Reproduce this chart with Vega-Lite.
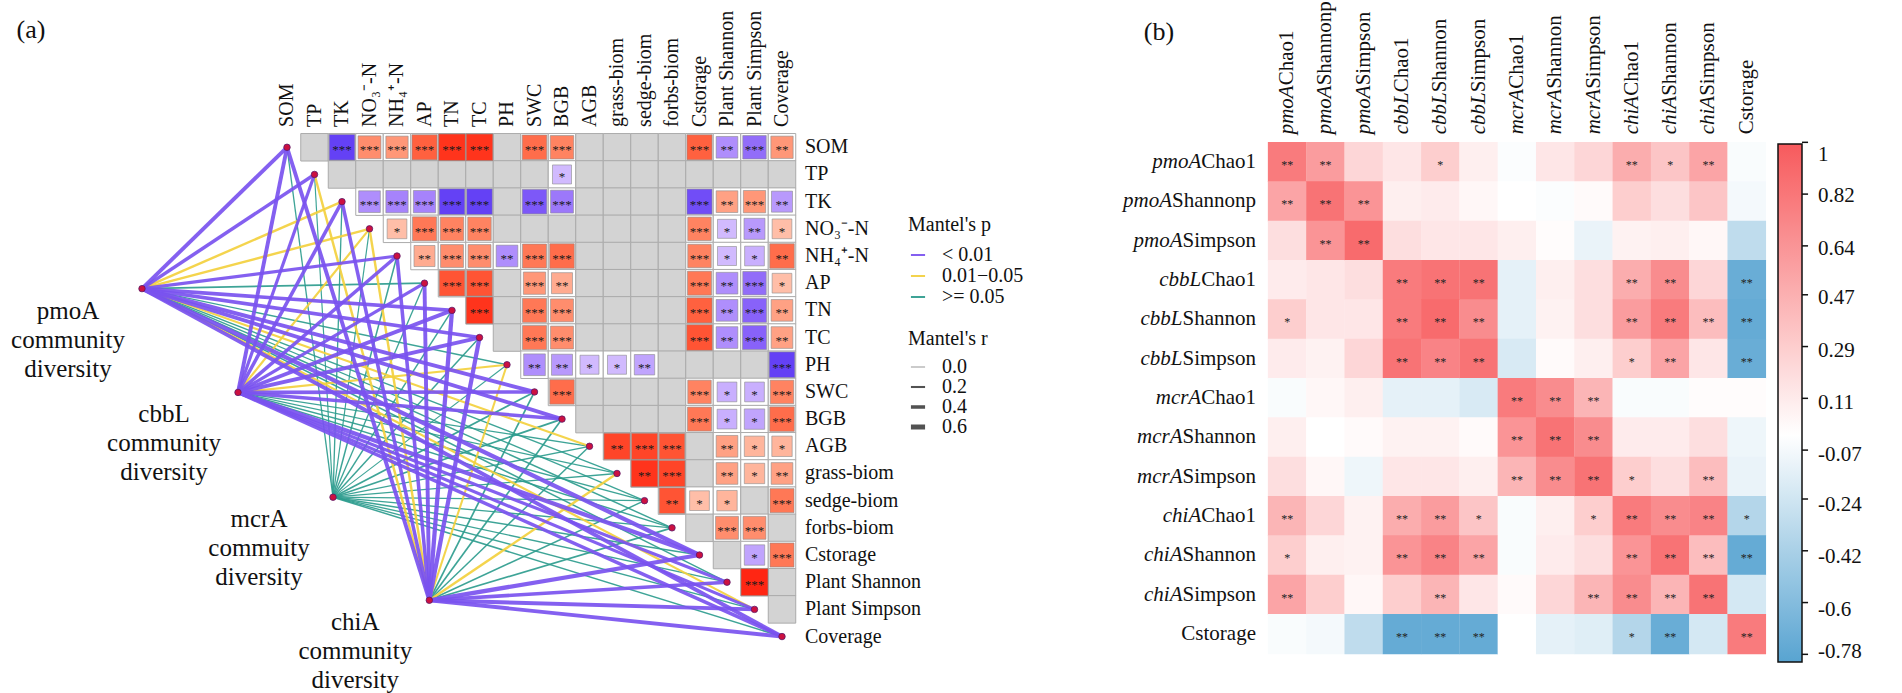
{
"$schema":"https://vega.github.io/schema/vega-lite/v6.json",
"width":1902,"height":693,
"autosize":{"type":"fit","contains":"padding"},
"padding":0,
"background":"white",
"config":{"view":{"stroke":null},"axis":{"disable":true},"font":"Liberation Serif","legend":{"titleFontWeight":"normal","titleFontSize":20,"labelFontSize":20,"titleColor":"#111","labelColor":"#111","padding":0}},
"datasets":{
"envs":[{"k":"SOM","n":"SOM","i":0},{"k":"TP","n":"TP","i":1},{"k":"TK","n":"TK","i":2},{"k":"NO3","n":"NO₃⁻-N","i":3},{"k":"NH4","n":"NH₄⁺-N","i":4},{"k":"AP","n":"AP","i":5},{"k":"TN","n":"TN","i":6},{"k":"TC","n":"TC","i":7},{"k":"PH","n":"PH","i":8},{"k":"SWC","n":"SWC","i":9},{"k":"BGB","n":"BGB","i":10},{"k":"AGB","n":"AGB","i":11},{"k":"grass","n":"grass-biom","i":12},{"k":"sedge","n":"sedge-biom","i":13},{"k":"forbs","n":"forbs-biom","i":14},{"k":"Cstorage","n":"Cstorage","i":15},{"k":"PShannon","n":"Plant Shannon","i":16},{"k":"PSimpson","n":"Plant Simpson","i":17},{"k":"Coverage","n":"Coverage","i":18}],
"genes":[{"g":"pmoA","gx":-5.273,"gy":5.2,"lab":["pmoA","community","diversity"]},{"g":"cbbL","gx":-1.782,"gy":9.018,"lab":["cbbL","community","diversity"]},{"g":"mcrA","gx":1.673,"gy":12.873,"lab":["mcrA","commuity","diversity"]},{"g":"chiA","gx":5.175,"gy":16.665,"lab":["chiA","community","diversity"]}],
"links":[
{"g":"mcrA","e":"SOM","p":">= 0.05","r":0.1},{"g":"mcrA","e":"TP","p":">= 0.05","r":0.08},{"g":"mcrA","e":"TK","p":">= 0.05","r":0.1},{"g":"mcrA","e":"NO3","p":">= 0.05","r":0.08},{"g":"mcrA","e":"NH4","p":">= 0.05","r":0.12},{"g":"mcrA","e":"AP","p":">= 0.05","r":0.1},{"g":"mcrA","e":"TN","p":">= 0.05","r":0.12},{"g":"mcrA","e":"TC","p":">= 0.05","r":0.12},{"g":"mcrA","e":"PH","p":">= 0.05","r":0.06},{"g":"mcrA","e":"SWC","p":">= 0.05","r":0.15},{"g":"mcrA","e":"BGB","p":">= 0.05","r":0.15},{"g":"mcrA","e":"AGB","p":">= 0.05","r":0.1},{"g":"mcrA","e":"grass","p":">= 0.05","r":0.1},{"g":"mcrA","e":"sedge","p":">= 0.05","r":0.08},{"g":"mcrA","e":"forbs","p":">= 0.05","r":0.1},{"g":"mcrA","e":"Cstorage","p":">= 0.05","r":0.12},{"g":"mcrA","e":"PShannon","p":">= 0.05","r":0.1},{"g":"mcrA","e":"PSimpson","p":">= 0.05","r":0.1},{"g":"mcrA","e":"Coverage","p":">= 0.05","r":0.12},
{"g":"pmoA","e":"AP","p":">= 0.05","r":0.15},{"g":"pmoA","e":"PH","p":">= 0.05","r":0.1},{"g":"pmoA","e":"grass","p":">= 0.05","r":0.1},{"g":"pmoA","e":"sedge","p":">= 0.05","r":0.1},{"g":"pmoA","e":"forbs","p":">= 0.05","r":0.12},{"g":"pmoA","e":"PShannon","p":">= 0.05","r":0.12},
{"g":"cbbL","e":"AGB","p":">= 0.05","r":0.1},{"g":"cbbL","e":"grass","p":">= 0.05","r":0.1},{"g":"cbbL","e":"sedge","p":">= 0.05","r":0.12},{"g":"cbbL","e":"forbs","p":">= 0.05","r":0.12},
{"g":"chiA","e":"SWC","p":">= 0.05","r":0.15},{"g":"chiA","e":"BGB","p":">= 0.05","r":0.15},{"g":"chiA","e":"AGB","p":">= 0.05","r":0.12},{"g":"chiA","e":"sedge","p":">= 0.05","r":0.12},{"g":"chiA","e":"forbs","p":">= 0.05","r":0.15},
{"g":"pmoA","e":"TK","p":"0.01−0.05","r":0.25},{"g":"pmoA","e":"NO3","p":"0.01−0.05","r":0.25},{"g":"pmoA","e":"AGB","p":"0.01−0.05","r":0.2},{"g":"pmoA","e":"PSimpson","p":"0.01−0.05","r":0.22},
{"g":"cbbL","e":"NO3","p":"0.01−0.05","r":0.22},{"g":"cbbL","e":"PH","p":"0.01−0.05","r":0.22},
{"g":"chiA","e":"TP","p":"0.01−0.05","r":0.25},{"g":"chiA","e":"NO3","p":"0.01−0.05","r":0.25},{"g":"chiA","e":"PH","p":"0.01−0.05","r":0.2},{"g":"chiA","e":"grass","p":"0.01−0.05","r":0.25},
{"g":"pmoA","e":"SOM","p":"< 0.01","r":0.45},{"g":"pmoA","e":"TP","p":"< 0.01","r":0.4},{"g":"pmoA","e":"NH4","p":"< 0.01","r":0.35},{"g":"pmoA","e":"TN","p":"< 0.01","r":0.4},{"g":"pmoA","e":"TC","p":"< 0.01","r":0.4},{"g":"pmoA","e":"SWC","p":"< 0.01","r":0.45},{"g":"pmoA","e":"BGB","p":"< 0.01","r":0.45},{"g":"pmoA","e":"Cstorage","p":"< 0.01","r":0.5},{"g":"pmoA","e":"Coverage","p":"< 0.01","r":0.45},
{"g":"cbbL","e":"SOM","p":"< 0.01","r":0.45},{"g":"cbbL","e":"TP","p":"< 0.01","r":0.35},{"g":"cbbL","e":"TK","p":"< 0.01","r":0.4},{"g":"cbbL","e":"NH4","p":"< 0.01","r":0.4},{"g":"cbbL","e":"AP","p":"< 0.01","r":0.35},{"g":"cbbL","e":"TN","p":"< 0.01","r":0.45},{"g":"cbbL","e":"TC","p":"< 0.01","r":0.45},{"g":"cbbL","e":"SWC","p":"< 0.01","r":0.4},{"g":"cbbL","e":"BGB","p":"< 0.01","r":0.4},{"g":"cbbL","e":"Cstorage","p":"< 0.01","r":0.5},{"g":"cbbL","e":"PShannon","p":"< 0.01","r":0.35},{"g":"cbbL","e":"PSimpson","p":"< 0.01","r":0.35},{"g":"cbbL","e":"Coverage","p":"< 0.01","r":0.4},
{"g":"chiA","e":"SOM","p":"< 0.01","r":0.45},{"g":"chiA","e":"TK","p":"< 0.01","r":0.4},{"g":"chiA","e":"NH4","p":"< 0.01","r":0.4},{"g":"chiA","e":"AP","p":"< 0.01","r":0.45},{"g":"chiA","e":"TN","p":"< 0.01","r":0.5},{"g":"chiA","e":"TC","p":"< 0.01","r":0.5},{"g":"chiA","e":"Cstorage","p":"< 0.01","r":0.5},{"g":"chiA","e":"PShannon","p":"< 0.01","r":0.4},{"g":"chiA","e":"PSimpson","p":"< 0.01","r":0.45},{"g":"chiA","e":"Coverage","p":"< 0.01","r":0.45}
],
"cellsA":[
{"i":0,"j":1,"p":""},{"i":0,"j":2,"r":-0.85,"p":"***"},{"i":0,"j":3,"r":0.6,"p":"***"},{"i":0,"j":4,"r":0.55,"p":"***"},{"i":0,"j":5,"r":0.8,"p":"***"},{"i":0,"j":6,"r":0.95,"p":"***"},{"i":0,"j":7,"r":0.95,"p":"***"},{"i":0,"j":8,"p":""},{"i":0,"j":9,"r":0.75,"p":"***"},{"i":0,"j":10,"r":0.65,"p":"***"},{"i":0,"j":11,"p":""},{"i":0,"j":12,"p":""},{"i":0,"j":13,"p":""},{"i":0,"j":14,"p":""},{"i":0,"j":15,"r":0.8,"p":"***"},{"i":0,"j":16,"r":-0.5,"p":"**"},{"i":0,"j":17,"r":-0.65,"p":"***"},{"i":0,"j":18,"r":0.55,"p":"**"},
{"i":1,"j":2,"p":""},{"i":1,"j":3,"p":""},{"i":1,"j":4,"p":""},{"i":1,"j":5,"p":""},{"i":1,"j":6,"p":""},{"i":1,"j":7,"p":""},{"i":1,"j":8,"p":""},{"i":1,"j":9,"p":""},{"i":1,"j":10,"r":-0.3,"p":"*"},{"i":1,"j":11,"p":""},{"i":1,"j":12,"p":""},{"i":1,"j":13,"p":""},{"i":1,"j":14,"p":""},{"i":1,"j":15,"p":""},{"i":1,"j":16,"p":""},{"i":1,"j":17,"p":""},{"i":1,"j":18,"p":""},
{"i":2,"j":3,"r":-0.5,"p":"***"},{"i":2,"j":4,"r":-0.55,"p":"***"},{"i":2,"j":5,"r":-0.55,"p":"***"},{"i":2,"j":6,"r":-0.85,"p":"***"},{"i":2,"j":7,"r":-0.85,"p":"***"},{"i":2,"j":8,"p":""},{"i":2,"j":9,"r":-0.75,"p":"***"},{"i":2,"j":10,"r":-0.6,"p":"***"},{"i":2,"j":11,"p":""},{"i":2,"j":12,"p":""},{"i":2,"j":13,"p":""},{"i":2,"j":14,"p":""},{"i":2,"j":15,"r":-0.8,"p":"***"},{"i":2,"j":16,"r":0.5,"p":"**"},{"i":2,"j":17,"r":0.55,"p":"***"},{"i":2,"j":18,"r":-0.45,"p":"**"},
{"i":3,"j":4,"r":0.35,"p":"*"},{"i":3,"j":5,"r":0.7,"p":"***"},{"i":3,"j":6,"r":0.65,"p":"***"},{"i":3,"j":7,"r":0.65,"p":"***"},{"i":3,"j":8,"p":""},{"i":3,"j":9,"p":""},{"i":3,"j":10,"p":""},{"i":3,"j":11,"p":""},{"i":3,"j":12,"p":""},{"i":3,"j":13,"p":""},{"i":3,"j":14,"p":""},{"i":3,"j":15,"r":0.65,"p":"***"},{"i":3,"j":16,"r":-0.3,"p":"*"},{"i":3,"j":17,"r":-0.45,"p":"**"},{"i":3,"j":18,"r":0.35,"p":"*"},
{"i":4,"j":5,"r":0.45,"p":"**"},{"i":4,"j":6,"r":0.6,"p":"***"},{"i":4,"j":7,"r":0.6,"p":"***"},{"i":4,"j":8,"r":-0.5,"p":"**"},{"i":4,"j":9,"r":0.7,"p":"***"},{"i":4,"j":10,"r":0.75,"p":"***"},{"i":4,"j":11,"p":""},{"i":4,"j":12,"p":""},{"i":4,"j":13,"p":""},{"i":4,"j":14,"p":""},{"i":4,"j":15,"r":0.65,"p":"***"},{"i":4,"j":16,"r":-0.3,"p":"*"},{"i":4,"j":17,"r":-0.35,"p":"*"},{"i":4,"j":18,"r":0.75,"p":"**"},
{"i":5,"j":6,"r":0.85,"p":"***"},{"i":5,"j":7,"r":0.85,"p":"***"},{"i":5,"j":8,"p":""},{"i":5,"j":9,"r":0.55,"p":"***"},{"i":5,"j":10,"r":0.45,"p":"**"},{"i":5,"j":11,"p":""},{"i":5,"j":12,"p":""},{"i":5,"j":13,"p":""},{"i":5,"j":14,"p":""},{"i":5,"j":15,"r":0.7,"p":"***"},{"i":5,"j":16,"r":-0.5,"p":"**"},{"i":5,"j":17,"r":-0.65,"p":"***"},{"i":5,"j":18,"r":0.35,"p":"*"},
{"i":6,"j":7,"r":0.95,"p":"***"},{"i":6,"j":8,"p":""},{"i":6,"j":9,"r":0.7,"p":"***"},{"i":6,"j":10,"r":0.6,"p":"***"},{"i":6,"j":11,"p":""},{"i":6,"j":12,"p":""},{"i":6,"j":13,"p":""},{"i":6,"j":14,"p":""},{"i":6,"j":15,"r":0.8,"p":"***"},{"i":6,"j":16,"r":-0.5,"p":"**"},{"i":6,"j":17,"r":-0.7,"p":"***"},{"i":6,"j":18,"r":0.5,"p":"**"},
{"i":7,"j":8,"p":""},{"i":7,"j":9,"r":0.7,"p":"***"},{"i":7,"j":10,"r":0.6,"p":"***"},{"i":7,"j":11,"p":""},{"i":7,"j":12,"p":""},{"i":7,"j":13,"p":""},{"i":7,"j":14,"p":""},{"i":7,"j":15,"r":0.85,"p":"***"},{"i":7,"j":16,"r":-0.5,"p":"**"},{"i":7,"j":17,"r":-0.7,"p":"***"},{"i":7,"j":18,"r":0.5,"p":"**"},
{"i":8,"j":9,"r":-0.5,"p":"**"},{"i":8,"j":10,"r":-0.45,"p":"**"},{"i":8,"j":11,"r":-0.3,"p":"*"},{"i":8,"j":12,"r":-0.3,"p":"*"},{"i":8,"j":13,"r":-0.4,"p":"**"},{"i":8,"j":14,"p":""},{"i":8,"j":15,"p":""},{"i":8,"j":16,"p":""},{"i":8,"j":17,"p":""},{"i":8,"j":18,"r":-0.85,"p":"***"},
{"i":9,"j":10,"r":0.75,"p":"***"},{"i":9,"j":11,"p":""},{"i":9,"j":12,"p":""},{"i":9,"j":13,"p":""},{"i":9,"j":14,"p":""},{"i":9,"j":15,"r":0.65,"p":"***"},{"i":9,"j":16,"r":-0.35,"p":"*"},{"i":9,"j":17,"r":-0.35,"p":"*"},{"i":9,"j":18,"r":0.65,"p":"***"},
{"i":10,"j":11,"p":""},{"i":10,"j":12,"p":""},{"i":10,"j":13,"p":""},{"i":10,"j":14,"p":""},{"i":10,"j":15,"r":0.7,"p":"***"},{"i":10,"j":16,"r":-0.35,"p":"*"},{"i":10,"j":17,"r":-0.4,"p":"*"},{"i":10,"j":18,"r":0.75,"p":"***"},
{"i":11,"j":12,"r":0.9,"p":"**"},{"i":11,"j":13,"r":0.9,"p":"***"},{"i":11,"j":14,"r":0.85,"p":"***"},{"i":11,"j":15,"p":""},{"i":11,"j":16,"r":0.5,"p":"**"},{"i":11,"j":17,"r":0.4,"p":"*"},{"i":11,"j":18,"r":0.4,"p":"*"},
{"i":12,"j":13,"r":0.95,"p":"**"},{"i":12,"j":14,"r":0.9,"p":"***"},{"i":12,"j":15,"p":""},{"i":12,"j":16,"r":0.5,"p":"**"},{"i":12,"j":17,"r":0.4,"p":"*"},{"i":12,"j":18,"r":0.5,"p":"**"},
{"i":13,"j":14,"r":0.85,"p":"**"},{"i":13,"j":15,"r":0.35,"p":"*"},{"i":13,"j":16,"r":0.4,"p":"*"},{"i":13,"j":17,"p":""},{"i":13,"j":18,"r":0.7,"p":"***"},
{"i":14,"j":15,"p":""},{"i":14,"j":16,"r":0.6,"p":"***"},{"i":14,"j":17,"r":0.6,"p":"***"},{"i":14,"j":18,"p":""},
{"i":15,"j":16,"p":""},{"i":15,"j":17,"r":-0.4,"p":"*"},{"i":15,"j":18,"r":0.7,"p":"***"},
{"i":16,"j":17,"r":0.98,"p":"***"},{"i":16,"j":18,"p":""},
{"i":17,"j":18,"p":""}
],
"blab":[{"i":0,"g":"pmoA","m":"Chao1"},{"i":1,"g":"pmoA","m":"Shannonp"},{"i":2,"g":"pmoA","m":"Simpson"},{"i":3,"g":"cbbL","m":"Chao1"},{"i":4,"g":"cbbL","m":"Shannon"},{"i":5,"g":"cbbL","m":"Simpson"},{"i":6,"g":"mcrA","m":"Chao1"},{"i":7,"g":"mcrA","m":"Shannon"},{"i":8,"g":"mcrA","m":"Simpson"},{"i":9,"g":"chiA","m":"Chao1"},{"i":10,"g":"chiA","m":"Shannon"},{"i":11,"g":"chiA","m":"Simpson"},{"i":12,"g":"","m":"Cstorage"}],
"cbticks":[{"v":1},{"v":0.82},{"v":0.64},{"v":0.47},{"v":0.29},{"v":0.11},{"v":-0.07},{"v":-0.24},{"v":-0.42},{"v":-0.6},{"v":-0.78}],
"cellsB":[
{"i":0,"j":0,"r":0.8,"p":"**"},{"i":0,"j":1,"r":0.6,"p":"**"},{"i":0,"j":2,"r":0.25,"p":""},{"i":0,"j":3,"r":0.15,"p":""},{"i":0,"j":4,"r":0.3,"p":"*"},{"i":0,"j":5,"r":0.1,"p":""},{"i":0,"j":6,"r":-0.02,"p":""},{"i":0,"j":7,"r":0.15,"p":""},{"i":0,"j":8,"r":0.25,"p":""},{"i":0,"j":9,"r":0.5,"p":"**"},{"i":0,"j":10,"r":0.35,"p":"*"},{"i":0,"j":11,"r":0.55,"p":"**"},{"i":0,"j":12,"r":-0.03,"p":""},
{"i":1,"j":0,"r":0.55,"p":"**"},{"i":1,"j":1,"r":0.85,"p":"**"},{"i":1,"j":2,"r":0.65,"p":"**"},{"i":1,"j":3,"r":0.1,"p":""},{"i":1,"j":4,"r":0.12,"p":""},{"i":1,"j":5,"r":0.05,"p":""},{"i":1,"j":6,"r":0,"p":""},{"i":1,"j":7,"r":-0.02,"p":""},{"i":1,"j":8,"r":0.03,"p":""},{"i":1,"j":9,"r":0.3,"p":""},{"i":1,"j":10,"r":0.2,"p":""},{"i":1,"j":11,"r":0.35,"p":""},{"i":1,"j":12,"r":-0.05,"p":""},
{"i":2,"j":0,"r":0.2,"p":""},{"i":2,"j":1,"r":0.65,"p":"**"},{"i":2,"j":2,"r":0.9,"p":"**"},{"i":2,"j":3,"r":0.2,"p":""},{"i":2,"j":4,"r":0.15,"p":""},{"i":2,"j":5,"r":0.15,"p":""},{"i":2,"j":6,"r":0.1,"p":""},{"i":2,"j":7,"r":0.02,"p":""},{"i":2,"j":8,"r":-0.1,"p":""},{"i":2,"j":9,"r":0.08,"p":""},{"i":2,"j":10,"r":0.1,"p":""},{"i":2,"j":11,"r":0.05,"p":""},{"i":2,"j":12,"r":-0.3,"p":""},
{"i":3,"j":0,"r":0.12,"p":""},{"i":3,"j":1,"r":0.15,"p":""},{"i":3,"j":2,"r":0.2,"p":""},{"i":3,"j":3,"r":0.8,"p":"**"},{"i":3,"j":4,"r":0.85,"p":"**"},{"i":3,"j":5,"r":0.85,"p":"**"},{"i":3,"j":6,"r":-0.12,"p":""},{"i":3,"j":7,"r":0.1,"p":""},{"i":3,"j":8,"r":0.2,"p":""},{"i":3,"j":9,"r":0.5,"p":"**"},{"i":3,"j":10,"r":0.7,"p":"**"},{"i":3,"j":11,"r":0.25,"p":""},{"i":3,"j":12,"r":-0.7,"p":"**"},
{"i":4,"j":0,"r":0.3,"p":"*"},{"i":4,"j":1,"r":0.15,"p":""},{"i":4,"j":2,"r":0.15,"p":""},{"i":4,"j":3,"r":0.8,"p":"**"},{"i":4,"j":4,"r":0.9,"p":"**"},{"i":4,"j":5,"r":0.7,"p":"**"},{"i":4,"j":6,"r":-0.12,"p":""},{"i":4,"j":7,"r":0.08,"p":""},{"i":4,"j":8,"r":0.2,"p":""},{"i":4,"j":9,"r":0.6,"p":"**"},{"i":4,"j":10,"r":0.8,"p":"**"},{"i":4,"j":11,"r":0.4,"p":"**"},{"i":4,"j":12,"r":-0.72,"p":"**"},
{"i":5,"j":0,"r":0.12,"p":""},{"i":5,"j":1,"r":0.08,"p":""},{"i":5,"j":2,"r":0.25,"p":""},{"i":5,"j":3,"r":0.85,"p":"**"},{"i":5,"j":4,"r":0.75,"p":"**"},{"i":5,"j":5,"r":0.85,"p":"**"},{"i":5,"j":6,"r":-0.18,"p":""},{"i":5,"j":7,"r":0.03,"p":""},{"i":5,"j":8,"r":0.1,"p":""},{"i":5,"j":9,"r":0.3,"p":"*"},{"i":5,"j":10,"r":0.55,"p":"**"},{"i":5,"j":11,"r":0.15,"p":""},{"i":5,"j":12,"r":-0.7,"p":"**"},
{"i":6,"j":0,"r":-0.03,"p":""},{"i":6,"j":1,"r":0.05,"p":""},{"i":6,"j":2,"r":0.1,"p":""},{"i":6,"j":3,"r":-0.12,"p":""},{"i":6,"j":4,"r":-0.12,"p":""},{"i":6,"j":5,"r":-0.18,"p":""},{"i":6,"j":6,"r":0.8,"p":"**"},{"i":6,"j":7,"r":0.7,"p":"**"},{"i":6,"j":8,"r":0.45,"p":"**"},{"i":6,"j":9,"r":-0.03,"p":""},{"i":6,"j":10,"r":-0.03,"p":""},{"i":6,"j":11,"r":0.02,"p":""},{"i":6,"j":12,"r":0.02,"p":""},
{"i":7,"j":0,"r":0.1,"p":""},{"i":7,"j":1,"r":0,"p":""},{"i":7,"j":2,"r":0.03,"p":""},{"i":7,"j":3,"r":0.08,"p":""},{"i":7,"j":4,"r":0.08,"p":""},{"i":7,"j":5,"r":0.03,"p":""},{"i":7,"j":6,"r":0.65,"p":"**"},{"i":7,"j":7,"r":0.85,"p":"**"},{"i":7,"j":8,"r":0.7,"p":"**"},{"i":7,"j":9,"r":0.12,"p":""},{"i":7,"j":10,"r":0.12,"p":""},{"i":7,"j":11,"r":0.2,"p":""},{"i":7,"j":12,"r":-0.08,"p":""},
{"i":8,"j":0,"r":0.2,"p":""},{"i":8,"j":1,"r":0.05,"p":""},{"i":8,"j":2,"r":-0.08,"p":""},{"i":8,"j":3,"r":0.15,"p":""},{"i":8,"j":4,"r":0.15,"p":""},{"i":8,"j":5,"r":0.1,"p":""},{"i":8,"j":6,"r":0.45,"p":"**"},{"i":8,"j":7,"r":0.7,"p":"**"},{"i":8,"j":8,"r":0.85,"p":"**"},{"i":8,"j":9,"r":0.3,"p":"*"},{"i":8,"j":10,"r":0.2,"p":""},{"i":8,"j":11,"r":0.4,"p":"**"},{"i":8,"j":12,"r":-0.1,"p":""},
{"i":9,"j":0,"r":0.45,"p":"**"},{"i":9,"j":1,"r":0.25,"p":""},{"i":9,"j":2,"r":0.08,"p":""},{"i":9,"j":3,"r":0.5,"p":"**"},{"i":9,"j":4,"r":0.6,"p":"**"},{"i":9,"j":5,"r":0.35,"p":"*"},{"i":9,"j":6,"r":-0.03,"p":""},{"i":9,"j":7,"r":0.1,"p":""},{"i":9,"j":8,"r":0.3,"p":"*"},{"i":9,"j":9,"r":0.8,"p":"**"},{"i":9,"j":10,"r":0.7,"p":"**"},{"i":9,"j":11,"r":0.75,"p":"**"},{"i":9,"j":12,"r":-0.35,"p":"*"},
{"i":10,"j":0,"r":0.3,"p":"*"},{"i":10,"j":1,"r":0.1,"p":""},{"i":10,"j":2,"r":0.08,"p":""},{"i":10,"j":3,"r":0.65,"p":"**"},{"i":10,"j":4,"r":0.75,"p":"**"},{"i":10,"j":5,"r":0.55,"p":"**"},{"i":10,"j":6,"r":-0.03,"p":""},{"i":10,"j":7,"r":0.12,"p":""},{"i":10,"j":8,"r":0.2,"p":""},{"i":10,"j":9,"r":0.65,"p":"**"},{"i":10,"j":10,"r":0.85,"p":"**"},{"i":10,"j":11,"r":0.4,"p":"**"},{"i":10,"j":12,"r":-0.72,"p":"**"},
{"i":11,"j":0,"r":0.55,"p":"**"},{"i":11,"j":1,"r":0.3,"p":""},{"i":11,"j":2,"r":0.05,"p":""},{"i":11,"j":3,"r":0.3,"p":""},{"i":11,"j":4,"r":0.45,"p":"**"},{"i":11,"j":5,"r":0.15,"p":""},{"i":11,"j":6,"r":0.03,"p":""},{"i":11,"j":7,"r":0.25,"p":""},{"i":11,"j":8,"r":0.45,"p":"**"},{"i":11,"j":9,"r":0.7,"p":"**"},{"i":11,"j":10,"r":0.45,"p":"**"},{"i":11,"j":11,"r":0.85,"p":"**"},{"i":11,"j":12,"r":-0.2,"p":""},
{"i":12,"j":0,"r":-0.03,"p":""},{"i":12,"j":1,"r":-0.05,"p":""},{"i":12,"j":2,"r":-0.3,"p":""},{"i":12,"j":3,"r":-0.72,"p":"**"},{"i":12,"j":4,"r":-0.72,"p":"**"},{"i":12,"j":5,"r":-0.72,"p":"**"},{"i":12,"j":6,"r":0,"p":""},{"i":12,"j":7,"r":-0.12,"p":""},{"i":12,"j":8,"r":-0.15,"p":""},{"i":12,"j":9,"r":-0.35,"p":"*"},{"i":12,"j":10,"r":-0.7,"p":"**"},{"i":12,"j":11,"r":-0.2,"p":""},{"i":12,"j":12,"r":0.8,"p":"**"}
]
},
"layer":[
{"layer":[
{"data":{"name":"links"},
 "transform":[{"lookup":"g","from":{"data":{"name":"genes"},"key":"g","fields":["gx","gy"]}},{"lookup":"e","from":{"data":{"name":"envs"},"key":"k","fields":["i"]}}],
 "mark":{"type":"rule","opacity":0.92},
 "encoding":{
  "x":{"field":"gx","type":"quantitative","scale":{"domain":[-10.4364,58.7273],"nice":false,"zero":false},"axis":null},
  "y":{"field":"gy","type":"quantitative","scale":{"domain":[-5.4182,19.7818],"nice":false,"zero":false,"reverse":true},"axis":null},
  "x2":{"field":"i"},"y2":{"field":"i"},
  "stroke":{"field":"p","type":"nominal","scale":{"domain":["< 0.01","0.01−0.05",">= 0.05"],"range":["#7a52ef","#f3d03e","#2e9c8e"]},"legend":{"title":"Mantel's p","orient":"none","legendX":908,"legendY":215,"symbolType":"stroke","symbolSize":200,"symbolStrokeWidth":2,"titlePadding":10,"rowPadding":1,"labelOffset":14}},
  "strokeWidth":{"field":"r","type":"quantitative","scale":{"domain":[0,0.6],"range":[0.6,5]},"legend":{"title":"Mantel's r","orient":"none","legendX":908,"legendY":329,"values":[0,0.2,0.4,0.6],"format":".1f","symbolType":"stroke","symbolSize":200,"symbolStrokeColor":"#444","titlePadding":8,"rowPadding":0,"labelOffset":14}}
 }},
{"data":{"name":"genes"},
 "mark":{"type":"circle","size":42,"opacity":1,"fill":"#cc1040","stroke":"#5a1a6a","strokeWidth":0.8},
 "encoding":{
  "x":{"field":"gx","type":"quantitative","scale":{"domain":[-10.4364,58.7273],"nice":false,"zero":false},"axis":null},
  "y":{"field":"gy","type":"quantitative","scale":{"domain":[-5.4182,19.7818],"nice":false,"zero":false,"reverse":true},"axis":null}}},
{"data":{"name":"envs"},
 "mark":{"type":"circle","size":42,"opacity":1,"fill":"#cc1040","stroke":"#5a1a6a","strokeWidth":0.8},
 "encoding":{
  "x":{"field":"i","type":"quantitative","scale":{"domain":[-10.4364,58.7273],"nice":false,"zero":false},"axis":null},
  "y":{"field":"i","type":"quantitative","scale":{"domain":[-5.4182,19.7818],"nice":false,"zero":false,"reverse":true},"axis":null}}},
{"data":{"name":"cellsA"},
 "mark":{"type":"square","size":756,"opacity":1,"stroke":"#ababab","strokeWidth":1},
 "encoding":{
  "x":{"field":"j","type":"quantitative","scale":{"domain":[-10.4364,58.7273],"nice":false,"zero":false},"axis":null},
  "y":{"field":"i","type":"quantitative","scale":{"domain":[-5.4182,19.7818],"nice":false,"zero":false,"reverse":true},"axis":null},
  "fill":{"condition":{"test":"datum.p == ''","value":"#d3d3d3"},"value":"#ffffff"}}},
{"data":{"name":"cellsA"},
 "transform":[{"filter":"datum.p != ''"}],
 "mark":{"type":"square","opacity":1,"stroke":"#8c8c8c","strokeWidth":0.6},
 "encoding":{
  "x":{"field":"j","type":"quantitative","scale":{"domain":[-10.4364,58.7273],"nice":false,"zero":false},"axis":null},
  "y":{"field":"i","type":"quantitative","scale":{"domain":[-5.4182,19.7818],"nice":false,"zero":false,"reverse":true},"axis":null},
  "fill":{"field":"r","type":"quantitative","scale":{"domain":[-1,0,1],"range":["#2b1cf2","#ffffff","#ff1a0d"],"interpolate":"lab"},"legend":{"title":"Pearson's r","orient":"none","legendX":908,"legendY":459,"direction":"vertical","gradientLength":90,"gradientThickness":14,"values":[1,0.5,0,-0.5,-1],"format":".1f","titlePadding":10,"labelOffset":3,"labelBaseline":"middle"}},
  "size":{"field":"r","type":"quantitative","scale":{"domain":[-1,0,1],"range":[740,200,740]},"legend":null}}},
{"data":{"name":"cellsA"},
 "transform":[{"filter":"datum.p != ''"}],
 "mark":{"type":"text","fontSize":13,"dy":3,"color":"#1a1a1a"},
 "encoding":{
  "x":{"field":"j","type":"quantitative","scale":{"domain":[-10.4364,58.7273],"nice":false,"zero":false},"axis":null},
  "y":{"field":"i","type":"quantitative","scale":{"domain":[-5.4182,19.7818],"nice":false,"zero":false,"reverse":true},"axis":null},
  "text":{"field":"p"}}},
{"data":{"name":"envs"},
 "mark":{"type":"text","fontSize":20,"angle":270,"align":"left","baseline":"middle","color":"#111"},
 "encoding":{
  "x":{"field":"i","type":"quantitative","scale":{"domain":[-10.4364,58.7273],"nice":false,"zero":false},"axis":null},
  "y":{"datum":-0.75,"type":"quantitative","scale":{"domain":[-5.4182,19.7818],"nice":false,"zero":false,"reverse":true},"axis":null},
  "text":{"field":"n"}}},
{"data":{"name":"envs"},
 "mark":{"type":"text","fontSize":20,"align":"left","baseline":"middle","color":"#111"},
 "encoding":{
  "x":{"datum":18.836,"type":"quantitative","scale":{"domain":[-10.4364,58.7273],"nice":false,"zero":false},"axis":null},
  "y":{"field":"i","type":"quantitative","scale":{"domain":[-5.4182,19.7818],"nice":false,"zero":false,"reverse":true},"axis":null},
  "text":{"field":"n"}}},
{"data":{"name":"genes"},
 "mark":{"type":"text","fontSize":25,"lineHeight":29,"align":"center","baseline":"middle","dx":-74,"dy":22,"color":"#111"},
 "encoding":{
  "x":{"field":"gx","type":"quantitative","scale":{"domain":[-10.4364,58.7273],"nice":false,"zero":false},"axis":null},
  "y":{"field":"gy","type":"quantitative","scale":{"domain":[-5.4182,19.7818],"nice":false,"zero":false,"reverse":true},"axis":null},
  "text":{"field":"lab"}}},
{"data":{"values":[{"t":"(a)"}]},
 "mark":{"type":"text","fontSize":26,"align":"center","baseline":"middle","color":"#111"},
 "encoding":{
  "x":{"datum":-9.309,"type":"quantitative","scale":{"domain":[-10.4364,58.7273],"nice":false,"zero":false},"axis":null},
  "y":{"datum":-4.327,"type":"quantitative","scale":{"domain":[-5.4182,19.7818],"nice":false,"zero":false,"reverse":true},"axis":null},
  "text":{"field":"t"}}},
{"data":{"values":[{"t":"(b)"}]},
 "mark":{"type":"text","fontSize":26,"align":"center","baseline":"middle","color":"#111"},
 "encoding":{
  "x":{"datum":31.709,"type":"quantitative","scale":{"domain":[-10.4364,58.7273],"nice":false,"zero":false},"axis":null},
  "y":{"datum":-4.255,"type":"quantitative","scale":{"domain":[-5.4182,19.7818],"nice":false,"zero":false,"reverse":true},"axis":null},
  "text":{"field":"t"}}}
]},
{"layer":[
{"data":{"name":"cellsB"},
 "mark":{"type":"rect","width":38.6,"height":40.1},
 "encoding":{
  "x":{"field":"j","type":"quantitative","scale":{"domain":[-33.607,16.053],"nice":false,"zero":false},"axis":null},
  "y":{"field":"i","type":"quantitative","scale":{"domain":[-4.118,13.294],"nice":false,"zero":false,"reverse":true},"axis":null},
  "color":{"field":"r","type":"quantitative","scale":{"domain":[-0.78,0,1],"range":["#58a4d1","#ffffff","#f75a5d"],"interpolate":"rgb"},"legend":{"title":null,"orient":"none","legendX":1778,"legendY":144,"direction":"vertical","gradientLength":518,"gradientThickness":24,"gradientStrokeColor":"#111","gradientStrokeWidth":1.5,"values":[1,0.82,0.64,0.47,0.29,0.11,-0.07,-0.24,-0.42,-0.6,-0.78],"labelExpr":"'' + datum.value","labelFontSize":21,"labelOffset":16,"labelOverlap":false,"labelBaseline":"middle"}}}},
{"data":{"name":"cellsB"},
 "transform":[{"filter":"datum.p != ''"}],
 "mark":{"type":"text","fontSize":12,"dy":3,"color":"#222"},
 "encoding":{
  "x":{"field":"j","type":"quantitative","scale":{"domain":[-33.607,16.053],"nice":false,"zero":false},"axis":null},
  "y":{"field":"i","type":"quantitative","scale":{"domain":[-4.118,13.294],"nice":false,"zero":false,"reverse":true},"axis":null},
  "text":{"field":"p"}}},
{"data":{"name":"blab"},
 "mark":{"type":"text","fontSize":21,"align":"right","baseline":"middle","dx":-12,"color":"#111"},
 "encoding":{
  "x":{"datum":-0.5,"type":"quantitative","scale":{"domain":[-33.607,16.053],"nice":false,"zero":false},"axis":null},
  "y":{"field":"i","type":"quantitative","scale":{"domain":[-4.118,13.294],"nice":false,"zero":false,"reverse":true},"axis":null},
  "text":{"field":"m"}}},
{"data":{"name":"blab"},
 "transform":[{"filter":"datum.m == 'Chao1'"}],
 "mark":{"type":"text","fontSize":21,"fontStyle":"italic","align":"right","baseline":"middle","dx":-66.8,"color":"#111"},
 "encoding":{
  "x":{"datum":-0.5,"type":"quantitative","scale":{"domain":[-33.607,16.053],"nice":false,"zero":false},"axis":null},
  "y":{"field":"i","type":"quantitative","scale":{"domain":[-4.118,13.294],"nice":false,"zero":false,"reverse":true},"axis":null},
  "text":{"field":"g"}}},
{"data":{"name":"blab"},
 "transform":[{"filter":"datum.m == 'Shannon' || datum.m == 'Simpson'"}],
 "mark":{"type":"text","fontSize":21,"fontStyle":"italic","align":"right","baseline":"middle","dx":-85.5,"color":"#111"},
 "encoding":{
  "x":{"datum":-0.5,"type":"quantitative","scale":{"domain":[-33.607,16.053],"nice":false,"zero":false},"axis":null},
  "y":{"field":"i","type":"quantitative","scale":{"domain":[-4.118,13.294],"nice":false,"zero":false,"reverse":true},"axis":null},
  "text":{"field":"g"}}},
{"data":{"name":"blab"},
 "transform":[{"filter":"datum.m == 'Shannonp'"}],
 "mark":{"type":"text","fontSize":21,"fontStyle":"italic","align":"right","baseline":"middle","dx":-96,"color":"#111"},
 "encoding":{
  "x":{"datum":-0.5,"type":"quantitative","scale":{"domain":[-33.607,16.053],"nice":false,"zero":false},"axis":null},
  "y":{"field":"i","type":"quantitative","scale":{"domain":[-4.118,13.294],"nice":false,"zero":false,"reverse":true},"axis":null},
  "text":{"field":"g"}}},
{"data":{"name":"blab"},
 "transform":[{"filter":"datum.g != ''"}],
 "mark":{"type":"text","fontSize":21,"fontStyle":"italic","angle":270,"align":"left","baseline":"middle","dx":8,"color":"#111"},
 "encoding":{
  "x":{"field":"i","type":"quantitative","scale":{"domain":[-33.607,16.053],"nice":false,"zero":false},"axis":null},
  "y":{"datum":-0.5,"type":"quantitative","scale":{"domain":[-4.118,13.294],"nice":false,"zero":false,"reverse":true},"axis":null},
  "text":{"field":"g"}}},
{"data":{"name":"blab"},
 "transform":[{"filter":"datum.g == 'pmoA'"}],
 "mark":{"type":"text","fontSize":21,"angle":270,"align":"left","baseline":"middle","dx":57,"color":"#111"},
 "encoding":{
  "x":{"field":"i","type":"quantitative","scale":{"domain":[-33.607,16.053],"nice":false,"zero":false},"axis":null},
  "y":{"datum":-0.5,"type":"quantitative","scale":{"domain":[-4.118,13.294],"nice":false,"zero":false,"reverse":true},"axis":null},
  "text":{"field":"m"}}},
{"data":{"name":"blab"},
 "transform":[{"filter":"datum.g == 'cbbL'"}],
 "mark":{"type":"text","fontSize":21,"angle":270,"align":"left","baseline":"middle","dx":50,"color":"#111"},
 "encoding":{
  "x":{"field":"i","type":"quantitative","scale":{"domain":[-33.607,16.053],"nice":false,"zero":false},"axis":null},
  "y":{"datum":-0.5,"type":"quantitative","scale":{"domain":[-4.118,13.294],"nice":false,"zero":false,"reverse":true},"axis":null},
  "text":{"field":"m"}}},
{"data":{"name":"blab"},
 "transform":[{"filter":"datum.g == 'mcrA'"}],
 "mark":{"type":"text","fontSize":21,"angle":270,"align":"left","baseline":"middle","dx":53.5,"color":"#111"},
 "encoding":{
  "x":{"field":"i","type":"quantitative","scale":{"domain":[-33.607,16.053],"nice":false,"zero":false},"axis":null},
  "y":{"datum":-0.5,"type":"quantitative","scale":{"domain":[-4.118,13.294],"nice":false,"zero":false,"reverse":true},"axis":null},
  "text":{"field":"m"}}},
{"data":{"name":"blab"},
 "transform":[{"filter":"datum.g == 'chiA'"}],
 "mark":{"type":"text","fontSize":21,"angle":270,"align":"left","baseline":"middle","dx":46.5,"color":"#111"},
 "encoding":{
  "x":{"field":"i","type":"quantitative","scale":{"domain":[-33.607,16.053],"nice":false,"zero":false},"axis":null},
  "y":{"datum":-0.5,"type":"quantitative","scale":{"domain":[-4.118,13.294],"nice":false,"zero":false,"reverse":true},"axis":null},
  "text":{"field":"m"}}},
{"data":{"name":"blab"},
 "transform":[{"filter":"datum.g == ''"}],
 "mark":{"type":"text","fontSize":21,"angle":270,"align":"left","baseline":"middle","dx":8,"color":"#111"},
 "encoding":{
  "x":{"field":"i","type":"quantitative","scale":{"domain":[-33.607,16.053],"nice":false,"zero":false},"axis":null},
  "y":{"datum":-0.5,"type":"quantitative","scale":{"domain":[-4.118,13.294],"nice":false,"zero":false,"reverse":true},"axis":null},
  "text":{"field":"m"}}}
]},
{"layer":[
{"data":{"name":"cbticks"},
 "mark":{"type":"rule","color":"#111","strokeWidth":1.5},
 "encoding":{
  "x":{"datum":13.4426,"type":"quantitative","scale":{"domain":[-33.607,16.053],"nice":false,"zero":false},"axis":null},
  "x2":{"datum":13.6},
  "y":{"field":"v","type":"quantitative","scale":{"domain":[-0.8866,1.4948],"nice":false,"zero":false},"axis":null},
  "y2":{"field":"v"}}}
]}
],
"resolve":{"scale":{"x":"independent","y":"independent"}}
}
